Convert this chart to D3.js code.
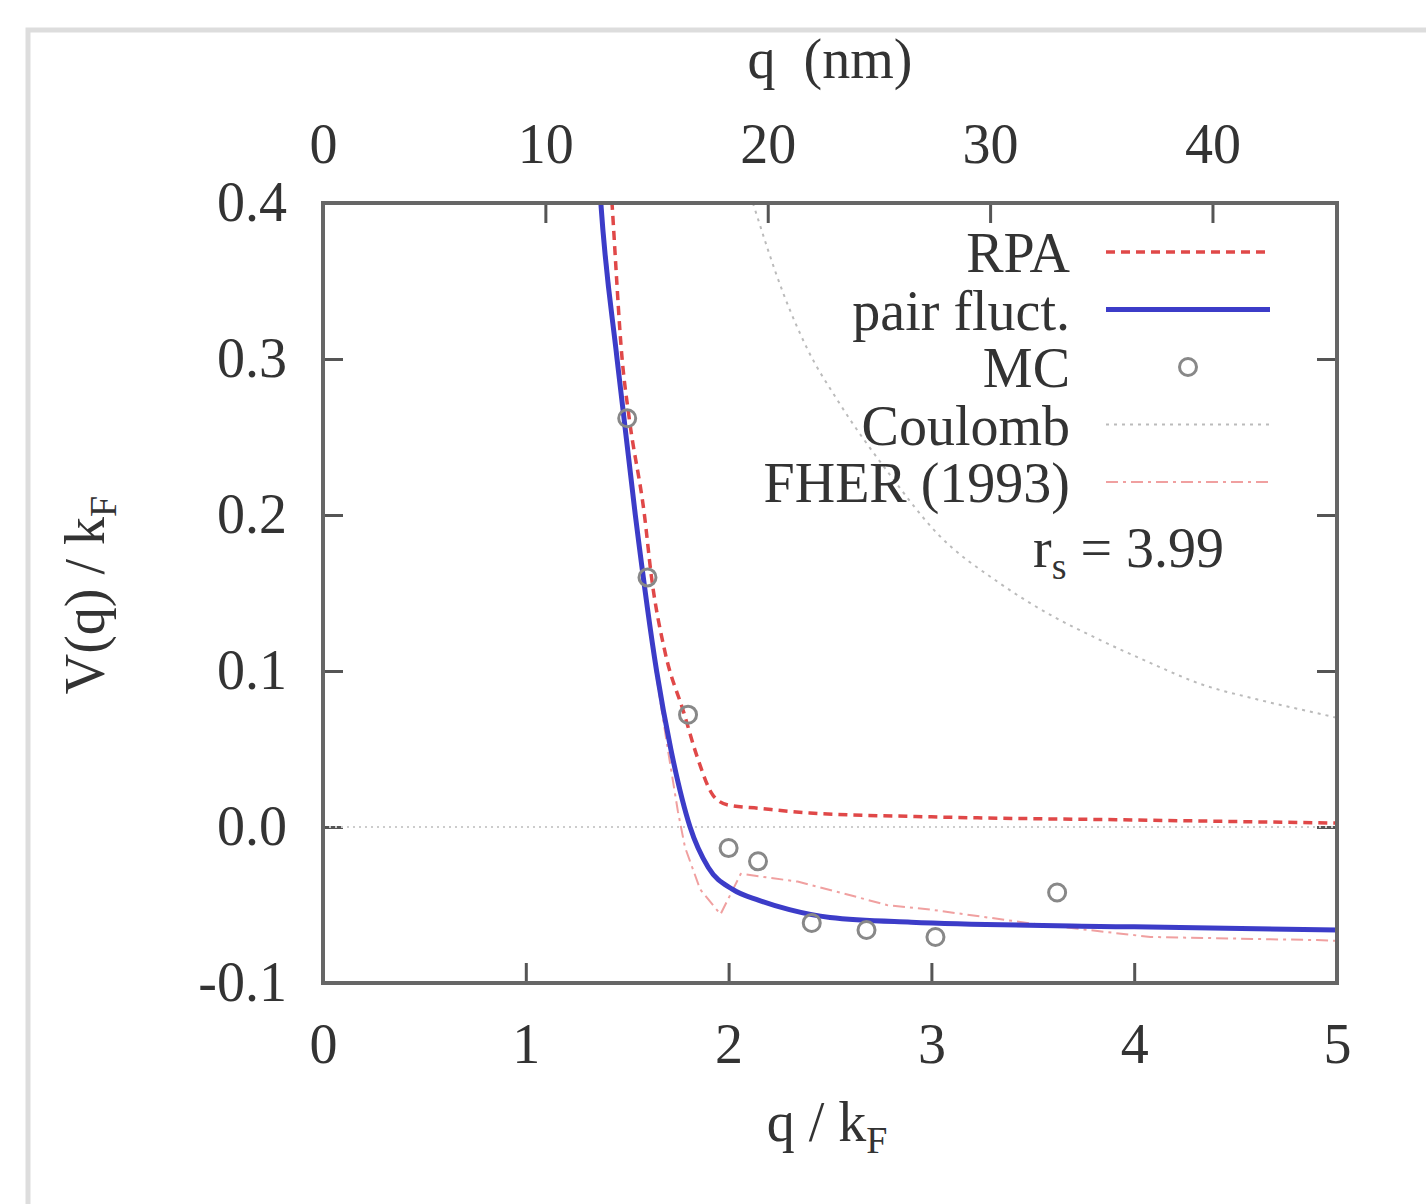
<!DOCTYPE html>
<html lang="en">
<head>
    <meta charset="UTF-8">
    <title>V(q) / kF</title>
    <script src="https://d3js.org/d3.v7.min.js"></script>
    <style>
        body { margin: 0; background: #ffffff; }
        svg text { font-family: "Liberation Serif", "DejaVu Serif", serif; fill: #333333; }
    </style>
</head>
<body>
    <svg id="chart" width="1426" height="1204"></svg>
    <script>
        // values
        const qRpa = [1.41, 1.425, 1.475, 1.51, 1.585, 1.62, 1.685, 1.78, 1.845, 1.925, 2.0, 2.15, 2.4, 3.0, 4.0, 5.0];
        const vRpa = [0.43, 0.40, 0.30, 0.262, 0.20, 0.16, 0.113, 0.073, 0.045, 0.020, 0.014, 0.012, 0.009, 0.0065, 0.0045, 0.0025];

        const qPair = [1.355, 1.37, 1.45, 1.54, 1.645, 1.715, 1.81, 1.90, 2.02, 2.15, 2.30, 2.50, 2.90, 4.0, 5.0];
        const vPair = [0.43, 0.40, 0.30, 0.20, 0.10, 0.05, 0.0, -0.026, -0.040, -0.047, -0.053, -0.058, -0.061, -0.064, -0.066];

        const qMc = [1.50, 1.60, 1.80, 2.00, 2.145, 2.41, 2.68, 3.02, 3.62];
        const vMc = [0.262, 0.160, 0.072, -0.0135, -0.022, -0.0615, -0.066, -0.0705, -0.042];

        const qCoul = [2.12, 2.27, 2.39, 2.535, 2.8, 3.03, 3.34, 3.6, 3.83, 4.1, 4.32, 4.6, 4.9, 5.0];
        const vCoul = [0.40, 0.342, 0.306, 0.274, 0.225, 0.188, 0.156, 0.135, 0.120, 0.104, 0.092, 0.082, 0.073, 0.070];

        const qFher = [1.355, 1.37, 1.45, 1.54, 1.64, 1.70, 1.75, 1.785, 1.86, 1.96, 2.06, 2.34, 2.55, 2.78, 3.0, 3.5, 4.08, 4.9, 5.0];
        const vFher = [0.43, 0.40, 0.30, 0.20, 0.10, 0.05, 0.01, -0.013, -0.040, -0.056, -0.030, -0.035, -0.042, -0.050, -0.053, -0.062, -0.0705, -0.0725, -0.073];

        const xTicks = [0, 1, 2, 3, 4, 5];
        const yTicks = [-0.1, 0.0, 0.1, 0.2, 0.3, 0.4];
        const nmTicks = [0, 10, 20, 30, 40];

        const legendNames = ['RPA', 'pair fluct.', 'MC', 'Coulomb', 'FHER (1993)'];

        const svg = d3.select('#chart');
        const plotL = 323, plotR = 1337, plotT = 203, plotB = 983;

        const x = d3.scaleLinear().domain([0, 5]).range([plotL, plotR]);
        const xNm = d3.scaleLinear().domain([0, 45.6]).range([plotL, plotR]);
        const y = d3.scaleLinear().domain([-0.1, 0.4]).range([plotB, plotT]);

        // outer figure border
        svg.append('path')
            .attr('d', 'M28,1204 V30 H1426')
            .attr('fill', 'none')
            .attr('stroke', '#dddddd')
            .attr('stroke-width', 5);

        svg.append('clipPath').attr('id', 'plotClip')
            .append('rect')
            .attr('x', plotL).attr('y', plotT)
            .attr('width', plotR - plotL).attr('height', plotB - plotT);

        const fontSize = 56;

        function styleAxis(g) {
            g.select('.domain').remove();
            g.selectAll('.tick line').attr('stroke', '#555555').attr('stroke-width', 3);
            g.selectAll('.tick text').attr('font-size', fontSize).attr('fill', '#333333')
                .style('font-family', '"Liberation Serif", serif');
        }

        svg.append('g')
            .attr('transform', `translate(0,${plotB})`)
            .call(d3.axisBottom(x).tickValues(xTicks).tickSizeInner(-20).tickSizeOuter(0).tickPadding(40).tickFormat(d3.format('d')))
            .call(styleAxis);

        svg.append('g')
            .attr('transform', `translate(0,${plotT})`)
            .call(d3.axisTop(xNm).tickValues(nmTicks).tickSizeInner(-20).tickSizeOuter(0).tickPadding(40).tickFormat(d3.format('d')))
            .call(styleAxis);

        svg.append('g')
            .attr('transform', `translate(${plotL},0)`)
            .call(d3.axisLeft(y).tickValues(yTicks).tickSizeInner(-20).tickSizeOuter(0).tickPadding(36).tickFormat(d => d.toFixed(1)))
            .call(styleAxis);

        svg.append('g')
            .attr('transform', `translate(${plotR},0)`)
            .call(d3.axisRight(y).tickValues(yTicks).tickSizeInner(-20).tickSizeOuter(0).tickFormat(''))
            .call(styleAxis);

        // zero line
        svg.append('line')
            .attr('x1', x(0)).attr('x2', x(5))
            .attr('y1', y(0)).attr('y2', y(0))
            .attr('stroke', '#cccccc')
            .attr('stroke-width', 2)
            .attr('stroke-dasharray', '2,4');

        const plot = svg.append('g').attr('clip-path', 'url(#plotClip)');

        const styles = {
            rpa: { stroke: '#e04848', width: 3.5, dash: '9,6' },
            pair: { stroke: '#3c3cc8', width: 5, dash: null },
            coul: { stroke: '#bbbbbb', width: 2, dash: '3,5' },
            fher: { stroke: '#f0a0a0', width: 2, dash: '12,5,3,5' }
        };

        function series(qs, vs) {
            return qs.map((q, i) => ({ q: q, v: vs[i] }));
        }

        const smooth = d3.line().x(d => x(d.q)).y(d => y(d.v)).curve(d3.curveMonotoneX);
        const straight = d3.line().x(d => x(d.q)).y(d => y(d.v));

        function drawLine(data, st, gen) {
            plot.append('path')
                .datum(data)
                .attr('fill', 'none')
                .attr('stroke', st.stroke)
                .attr('stroke-width', st.width)
                .attr('stroke-dasharray', st.dash)
                .attr('d', gen);
        }

        drawLine(series(qCoul, vCoul), styles.coul, smooth);
        drawLine(series(qFher, vFher), styles.fher, straight);
        drawLine(series(qPair, vPair), styles.pair, smooth);
        drawLine(series(qRpa, vRpa), styles.rpa, smooth);

        plot.selectAll('circle.mc')
            .data(series(qMc, vMc))
            .enter().append('circle')
            .attr('class', 'mc')
            .attr('cx', d => x(d.q))
            .attr('cy', d => y(d.v))
            .attr('r', 8.5)
            .attr('fill', 'none')
            .attr('stroke', '#888888')
            .attr('stroke-width', 3);

        // frame
        svg.append('rect')
            .attr('x', plotL).attr('y', plotT)
            .attr('width', plotR - plotL).attr('height', plotB - plotT)
            .attr('fill', 'none')
            .attr('stroke', '#666666')
            .attr('stroke-width', 4);

        // legend
        const legendStyles = [styles.rpa, styles.pair, null, styles.coul, styles.fher];
        const legend = svg.append('g');
        legendNames.forEach((name, i) => {
            const by = 272 + i * 57.5;
            legend.append('text')
                .attr('x', 1070).attr('y', by)
                .attr('text-anchor', 'end')
                .attr('font-size', fontSize)
                .text(name);
            const my = by - 20;
            const st = legendStyles[i];
            if (st) {
                legend.append('line')
                    .attr('x1', 1106).attr('x2', 1270)
                    .attr('y1', my).attr('y2', my)
                    .attr('stroke', st.stroke)
                    .attr('stroke-width', st.width)
                    .attr('stroke-dasharray', st.dash);
            } else {
                legend.append('circle')
                    .attr('cx', 1188).attr('cy', my)
                    .attr('r', 8.5)
                    .attr('fill', 'none')
                    .attr('stroke', '#888888')
                    .attr('stroke-width', 3);
            }
        });

        const rs = svg.append('text')
            .attr('x', 1033).attr('y', 567)
            .attr('font-size', fontSize);
        rs.append('tspan').text('r');
        rs.append('tspan').attr('font-size', 38).attr('dy', 12).text('s');
        rs.append('tspan').attr('dy', -12).text(' = 3.99');

        // axis titles
        svg.append('text')
            .attr('x', 830).attr('y', 78)
            .attr('text-anchor', 'middle')
            .attr('font-size', fontSize)
            .text('q\u00a0\u00a0(nm)');

        const xt = svg.append('text')
            .attr('x', 827).attr('y', 1141)
            .attr('text-anchor', 'middle')
            .attr('font-size', fontSize);
        xt.append('tspan').text('q / k');
        xt.append('tspan').attr('font-size', 38).attr('dy', 12).text('F');

        const yt = svg.append('text')
            .attr('transform', 'translate(104,595) rotate(-90)')
            .attr('text-anchor', 'middle')
            .attr('font-size', fontSize);
        yt.append('tspan').text('V(q) / k');
        yt.append('tspan').attr('font-size', 38).attr('dy', 12).text('F');
    </script>
</body>
</html>
